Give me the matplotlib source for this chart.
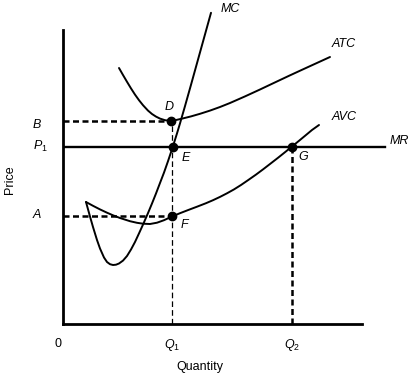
import matplotlib
matplotlib.use("Agg")
import matplotlib.pyplot as plt

plt.rcParams['font.family'] = ['Liberation Sans', 'DejaVu Sans']
plt.rcParams['mathtext.fontset'] = 'custom'
plt.rcParams['mathtext.rm'] = 'Liberation Sans'
plt.rcParams['mathtext.it'] = 'Liberation Sans:italic'

# ---- data (quantity, price) ----
mc_q = [23, 27, 30, 34, 37, 41, 44, 47, 50, 53, 56, 60, 64, 68, 72, 76, 80, 85, 89, 93,
        97, 101, 105, 110, 114, 117, 122, 128, 133, 137, 142, 148]
mc_p = [122, 107.5, 97, 84, 75.5, 66.5, 62, 59.8, 59, 59.3, 60.5, 63.4, 68, 74.5, 82, 90.6,
        99.4, 110.9, 120.5, 130.5, 141, 151.4, 162.8, 177.8, 190.6, 200.6, 217.9, 239.2,
        257.2, 271.6, 289.6, 311.2]

avc_q = [23, 30, 37, 44, 50, 57, 67, 74, 80, 87, 94, 101, 109, 117, 125, 134, 143, 150, 157,
         164, 171, 178, 185, 193, 200, 207, 215, 222, 229, 236, 243, 249, 256]
avc_p = [122, 118.2, 114.6, 111.3, 108.7, 106, 102.8, 101.2, 100.3, 100, 101.3, 103.8, 107.5,
         110.8, 113.9, 117.3, 120.8, 123.8, 127.1, 130.7, 134.6, 139, 143.8, 149.4, 154.6,
         160, 166.2, 171.8, 177.5, 183.2, 189, 194, 199]

atc_q = [56, 60, 64, 68, 72, 76, 80, 85, 89, 93, 97, 102, 108, 114, 120, 128, 137, 147, 157,
         167, 182, 197, 212, 226, 239, 253, 267]
atc_p = [256, 249, 242.2, 235.6, 229.4, 223.8, 218.8, 213.4, 210, 207.4, 205.4, 203.8, 203,
         204.2, 205.6, 207.6, 210.2, 213.4, 217, 221, 227.6, 234.5, 241.6, 248.2, 254.2,
         260.6, 267]

mr_q = [2, 322]
P1 = 177
B = 203
A = 108
Q1 = 109
Q2 = 229

points = {'D': (108, 203), 'E': (110, 177), 'F': (109, 108), 'G': (229, 177)}

fig = plt.figure(figsize=(4.11, 3.78), dpi=100)
ax = fig.add_axes([63/411, 54/378, 299/411, 294/378])
ax.set_xlim(0, 299)
ax.set_ylim(0, 294)
for s in ['top', 'right']:
    ax.spines[s].set_visible(False)
for s in ['left', 'bottom']:
    ax.spines[s].set_linewidth(2.0)
ax.set_xticks([])
ax.set_yticks([])

lw_curve = 1.4
for qs, ps in [(mc_q, mc_p), (avc_q, avc_p), (atc_q, atc_p)]:
    ax.plot(qs, ps, color='black', lw=lw_curve, clip_on=False,
            solid_joinstyle='round', solid_capstyle='round')
ax.plot(mr_q, [P1, P1], color='black', lw=1.7, clip_on=False)

# dashed guides
ax.plot([0, points['D'][0]], [B, B], color='black', lw=1.8, linestyle=(0, (2.4, 1.4)), clip_on=False)
ax.plot([0, points['F'][0]], [A, A], color='black', lw=1.8, linestyle=(0, (2.4, 1.4)), clip_on=False)
ax.plot([Q1, Q1], [0, B], color='black', lw=0.9, linestyle=(0, (4.5, 2.5)), clip_on=False)
ax.plot([Q2, Q2], [0, P1], color='black', lw=1.8, linestyle=(0, (2.4, 1.4)), clip_on=False)

for name, (qx, py) in points.items():
    ax.plot([qx], [py], 'o', color='black', ms=6, clip_on=False, zorder=5)

fs = 9
it = dict(fontsize=fs, style='italic', ha='center', va='center', clip_on=False)
ax.text(106, 217, 'D', **it)
ax.text(123, 166, 'E', **it)
ax.text(121, 99, 'F', **it)
ax.text(240, 167, 'G', **it)
ax.text(167, 315, 'MC', **it)
ax.text(281, 280, 'ATC', **it)
ax.text(281, 207, 'AVC', **it)
ax.text(336, 183, 'MR', **it)
ax.text(-26, 199, 'B', **it)
ax.text(-23, 178, r'$P_1$', **it)
ax.text(-26, 109, 'A', **it)
ax.text(-5, -20, '0', fontsize=fs, ha='center', va='center', clip_on=False)
ax.text(Q1, -21, r'$Q_1$', **it)
ax.text(Q2, -21, r'$Q_2$', **it)

fig.text(10/411, 1 - 180/378, 'Price', rotation=90, fontsize=fs, ha='center', va='center')
fig.text(200/411, 1 - 367/378, 'Quantity', fontsize=fs, ha='center', va='center')

fig.savefig('out.png', dpi=100)
